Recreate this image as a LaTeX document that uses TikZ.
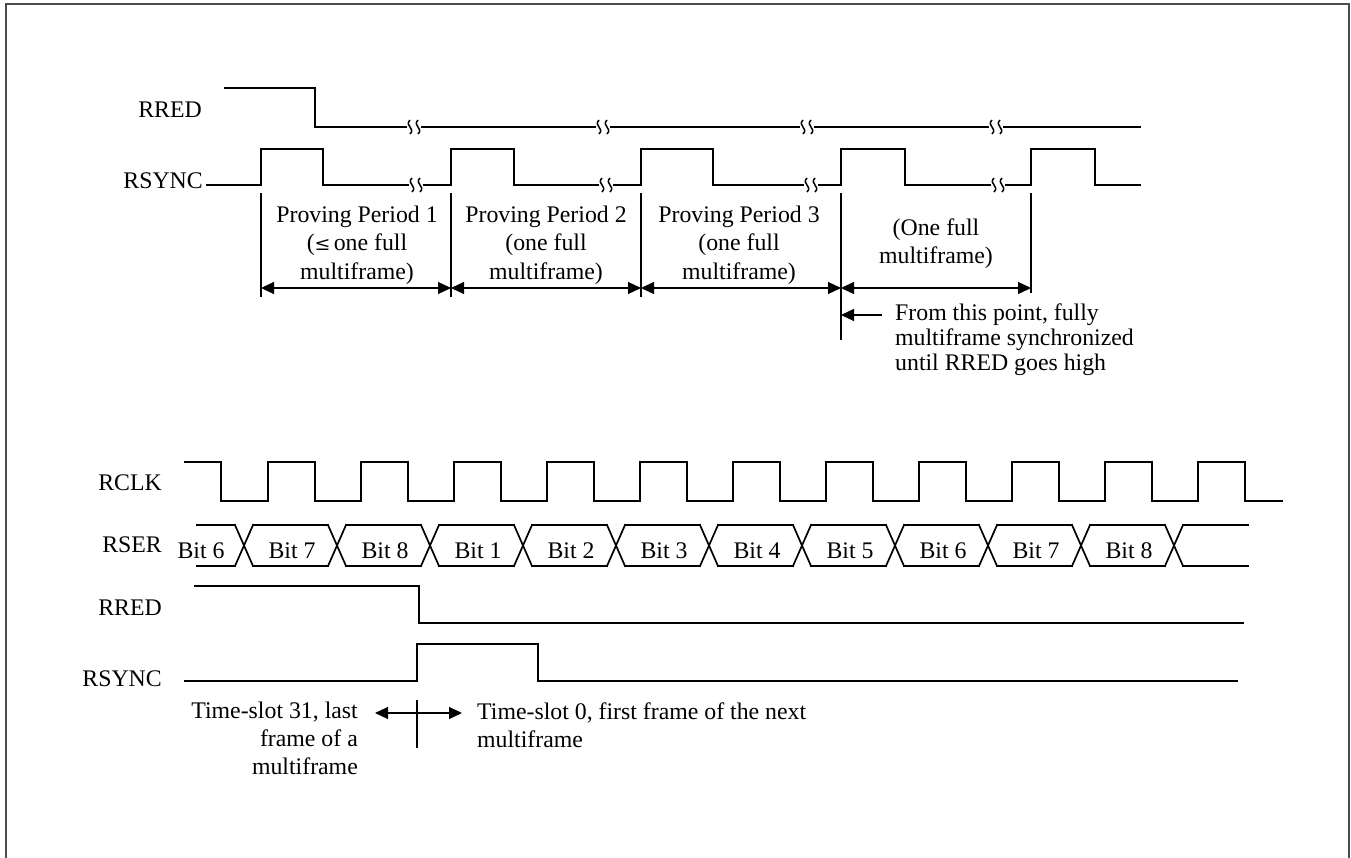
\documentclass[tikz,border=0pt]{standalone}
\usepackage{fontspec}
\setmainfont{Liberation Serif}
\usetikzlibrary{arrows.meta}
\begin{document}
\begin{tikzpicture}[x=1pt,y=-1pt,
  wave/.style={line width=1.7pt, line join=miter, line cap=rect},
  dimline/.style={line width=1.1pt},
  lbl/.style={font=\fontsize{23.8}{28}\selectfont, inner sep=0pt},
  both/.style={dimline, {Triangle[length=13pt,width=12pt]}-{Triangle[length=13pt,width=12pt]}},
  one/.style={dimline, -{Triangle[length=13pt,width=12pt]}},
  brk/.pic={
    \draw[line width=1.5pt] (-4,-7) .. controls (-10,-1) and (2,1) .. (-4,7);
    \draw[line width=1.5pt] (4,-7) .. controls (-2,-1) and (10,1) .. (4,7);
  }]
\useasboundingbox (0,0) rectangle (1351,857);
\draw[line width=2.2pt, color=black!70] (6,860) -- (6,4) -- (1349,4) -- (1349,860);

% ---------------- top section ----------------
\node[lbl, anchor=base east] (tRRED) at (202,117) {RRED};
\node[lbl, anchor=base east] (tRSYNC) at (203,188) {RSYNC};

% RRED top
\draw[wave] (225,88) -- (315,88) -- (315,127) -- (406,127);
\draw[wave] (422,127) -- (595,127);
\draw[wave] (611,127) -- (799,127);
\draw[wave] (815,127) -- (988,127);
\draw[wave] (1004,127) -- (1140,127);
\foreach \b in {414,603,807,996} \pic at (\b,127) {brk};

% RSYNC top
\draw[wave] (207,185) -- (261,185) -- (261,149) -- (323,149) -- (323,185) -- (408,185);
\draw[wave] (424,185) -- (451,185) -- (451,149) -- (514,149) -- (514,185) -- (598,185);
\draw[wave] (614,185) -- (641,185) -- (641,149) -- (713,149) -- (713,185) -- (803,185);
\draw[wave] (819,185) -- (841,185) -- (841,149) -- (905,149) -- (905,185) -- (990,185);
\draw[wave] (1006,185) -- (1031,185) -- (1031,149) -- (1095,149) -- (1095,185) -- (1140,185);
\foreach \b in {416,606,811,998} \pic at (\b,185) {brk};

% extension lines
\coordinate (e1t) at (261,193); \coordinate (e1b) at (261,297);
\coordinate (e2t) at (451,193); \coordinate (e2b) at (451,297);
\coordinate (e3t) at (641,193); \coordinate (e3b) at (641,297);
\coordinate (e4t) at (841,193); \coordinate (e4b) at (841,340);
\coordinate (e5t) at (1031,193); \coordinate (e5b) at (1031,293);
\foreach \i in {1,...,5} \draw[dimline] (e\i t) -- (e\i b);

% dimension arrows
\coordinate (d1) at (261,288);
\coordinate (d2) at (451,288);
\coordinate (d3) at (641,288);
\coordinate (d4) at (841,288);
\coordinate (d5) at (1031,288);
\draw[both] (d1) -- (d2);
\draw[both] (d2) -- (d3);
\draw[both] (d3) -- (d4);
\draw[both] (d4) -- (d5);

% period labels
\node[lbl, anchor=base] (p1a) at (357,222) {Proving Period 1};
\node[lbl, anchor=base] (p1b) at (357,250) {(\fontspec{DejaVu Serif}\fontsize{19}{28}\selectfont≤\,\normalfont\fontsize{23.8}{28}\selectfont one full};
\node[lbl, anchor=base] (p1c) at (357,279) {multiframe)};
\node[lbl, anchor=base] (p2a) at (546,222) {Proving Period 2};
\node[lbl, anchor=base] (p2b) at (546,250) {(one full};
\node[lbl, anchor=base] (p2c) at (546,279) {multiframe)};
\node[lbl, anchor=base] (p3a) at (739,222) {Proving Period 3};
\node[lbl, anchor=base] (p3b) at (739,250) {(one full};
\node[lbl, anchor=base] (p3c) at (739,279) {multiframe)};
\node[lbl, anchor=base] (p4a) at (936,235) {(One full};
\node[lbl, anchor=base] (p4b) at (936,263) {multiframe)};

% from this point
\coordinate (fa) at (882,315);
\draw[one] (fa) -- (e4t |- fa);
\node[lbl, anchor=base west] (f1) at (895,320) {From this point, fully};
\node[lbl, anchor=base west] (f2) at (895,345) {multiframe synchronized};
\node[lbl, anchor=base west] (f3) at (895,370) {until RRED goes high};

% ---------------- bottom section ----------------
\node[lbl, anchor=base east] (bRCLK) at (162,490) {RCLK};
\node[lbl, anchor=base east] (bRSER) at (162,552) {RSER};
\node[lbl, anchor=base east] (bRRED) at (162,615) {RRED};
\node[lbl, anchor=base east] (bRSYNC) at (162,686) {RSYNC};

% RCLK
\draw[wave] (185,462) -- (221,462) -- (221,501)
  \foreach \k in {0,...,10}{ -- ({268+93*\k},501) -- ({268+93*\k},462) -- ({315+93*\k},462) -- ({315+93*\k},501) }
  -- (1282,501);

% RSER bus
\draw[wave] (197,525) -- (235,525);
\draw[wave] (197,566) -- (235,566);
\foreach \k in {0,...,10}{
  \draw[wave] ({235+93*\k},525) -- ({253+93*\k},566);
  \draw[wave] ({235+93*\k},566) -- ({253+93*\k},525);
}
\foreach \k in {0,...,9}{
  \draw[wave] ({253+93*\k},525) -- ({328+93*\k},525);
  \draw[wave] ({253+93*\k},566) -- ({328+93*\k},566);
}
\draw[wave] (1183,525) -- (1248,525);
\draw[wave] (1183,566) -- (1248,566);
\node[lbl, anchor=base] (bit0) at (201,558) {Bit 6};
\foreach \t [count=\k from 0] in {7,8,1,2,3,4,5,6,7,8}
  \node[lbl, anchor=base] (bit\t-\k) at ({292+93*\k},558) {Bit \t};

% RRED bottom
\draw[wave] (195,586) -- (419,586) -- (419,623) -- (1243,623);

% RSYNC bottom
\draw[wave] (185,681) -- (417,681) -- (417,644) -- (538,644) -- (538,681) -- (1237,681);

% time-slot marker
\coordinate (mt) at (417,700);
\coordinate (mb) at (417,748);
\draw[dimline] (mt) -- (mb);
\coordinate (ml) at (375,713);
\coordinate (mr) at (462,713);
\draw[both] (ml) -- (mr);

\node[lbl, anchor=base east] (ts1) at (358,718) {Time-slot 31, last};
\node[lbl, anchor=base east] (ts2) at (358,746) {frame of a};
\node[lbl, anchor=base east] (ts3) at (358,774) {multiframe};
\node[lbl, anchor=base west] (tn1) at (477,719) {Time-slot 0, first frame of the next};
\node[lbl, anchor=base west] (tn2) at (477,747) {multiframe};
\end{tikzpicture}
\end{document}
